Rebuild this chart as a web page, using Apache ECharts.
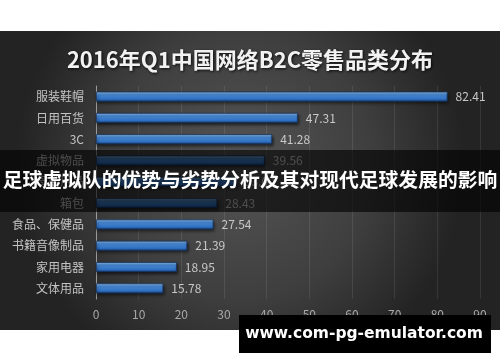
<!DOCTYPE html>
<html>
<head>
<meta charset="utf-8">
<script src="https://cdn.jsdelivr.net/npm/echarts@6/dist/echarts.min.js"></script>
<style>html,body{margin:0;padding:0;background:#fff;}#c{width:500px;height:362px;}</style>
</head>
<body>
<div id="c"></div>
<script>
var titleText = '2016年Q1中国网络B2C零售品类分布';
var categories = ['服装鞋帽', '日用百货', '3C', '虚拟物品', '母婴用品', '箱包', '食品、保健品', '书籍音像制品', '家用电器', '文体用品'];
var values = [82.41, 47.31, 41.28, 39.56, 33.0, 28.43, 27.54, 21.39, 18.95, 15.78];
var axisMin = 0, axisMax = 90, axisStep = 10;
var bannerText = '足球虚拟队的优势与劣势分析及其对现代足球发展的影响';
var watermarkText = 'www.com-pg-emulator.com';

var chart = echarts.init(document.getElementById('c'));
var font = '"Noto Sans CJK SC", "Noto Sans", sans-serif';
chart.setOption({
  backgroundColor: '#ffffff',
  animation: false,
  title: {
    text: titleText,
    left: 'center',
    top: 44,
    textStyle: {
      color: '#f2f2f2', fontSize: 22, fontWeight: 'bold', fontFamily: font,
      textShadowColor: 'rgba(0,0,0,0.85)', textShadowBlur: 3, textShadowOffsetX: 1, textShadowOffsetY: 1
    }
  },
  grid: { left: 96, right: 20, top: 86, bottom: 63 },
  xAxis: {
    type: 'value', min: axisMin, max: axisMax, interval: axisStep,
    axisLine: { show: false }, axisTick: { show: false },
    axisLabel: { color: '#a8a8a8', fontSize: 12, fontFamily: font, margin: 9 },
    splitLine: { show: true, lineStyle: { color: 'rgba(255,255,255,0.09)', width: 1 } }
  },
  yAxis: {
    type: 'category', data: categories, inverse: true,
    axisLine: { show: true, lineStyle: { color: '#9a9a9a', width: 1 } },
    axisTick: { show: false },
    axisLabel: { color: '#c4c4c4', fontSize: 12, fontFamily: font, margin: 12 }
  },
  series: [{
    type: 'bar', data: values, barWidth: 10,
    itemStyle: {
      color: new echarts.graphic.LinearGradient(0, 0, 0, 1, [
        { offset: 0, color: '#9cc8f2' },
        { offset: 0.3, color: '#4b8fdc' },
        { offset: 0.75, color: '#2f6fc0' },
        { offset: 1, color: '#163f7a' }
      ]),
      borderColor: '#15325e', borderWidth: 0.8,
      shadowColor: 'rgba(0,0,0,0.6)', shadowBlur: 3, shadowOffsetY: 2, shadowOffsetX: 1
    },
    label: {
      show: true, position: 'right', distance: 8,
      color: '#c8c8c8', fontSize: 12, fontFamily: font,
      formatter: function (p) { return p.value.toFixed(2); }
    }
  }],
  graphic: [
    {
      type: 'rect', z: -100, silent: true,
      shape: { x: 0, y: 31, width: 500, height: 299 },
      style: {
        fill: new echarts.graphic.RadialGradient(0.48, 0.45, 0.75, [
          { offset: 0, color: '#555555' },
          { offset: 0.6, color: '#3e3e3e' },
          { offset: 1, color: '#232323' }
        ])
      }
    },
    {
      type: 'rect', z: 100, silent: true,
      shape: { x: 0, y: 150, width: 500, height: 62 },
      style: { fill: 'rgba(0,0,0,0.62)' }
    },
    {
      type: 'text', z: 101, silent: true,
      x: 250, y: 179,
      style: {
        text: bannerText, fill: '#ffffff', font: 'bold 19.8px "Noto Sans CJK SC", sans-serif',
        textAlign: 'center', textVerticalAlign: 'middle', align: 'center', verticalAlign: 'middle'
      }
    },
    {
      type: 'rect', z: 100, silent: true,
      shape: { x: 239, y: 315, width: 252, height: 38 },
      style: { fill: '#000000' }
    },
    {
      type: 'text', z: 101, silent: true,
      x: 364, y: 334,
      style: {
        text: watermarkText, fill: '#ffffff', font: 'bold 15.5px "DejaVu Sans", "Noto Sans", sans-serif',
        textAlign: 'center', textVerticalAlign: 'middle', align: 'center', verticalAlign: 'middle'
      }
    }
  ]
});
</script>
</body>
</html>
